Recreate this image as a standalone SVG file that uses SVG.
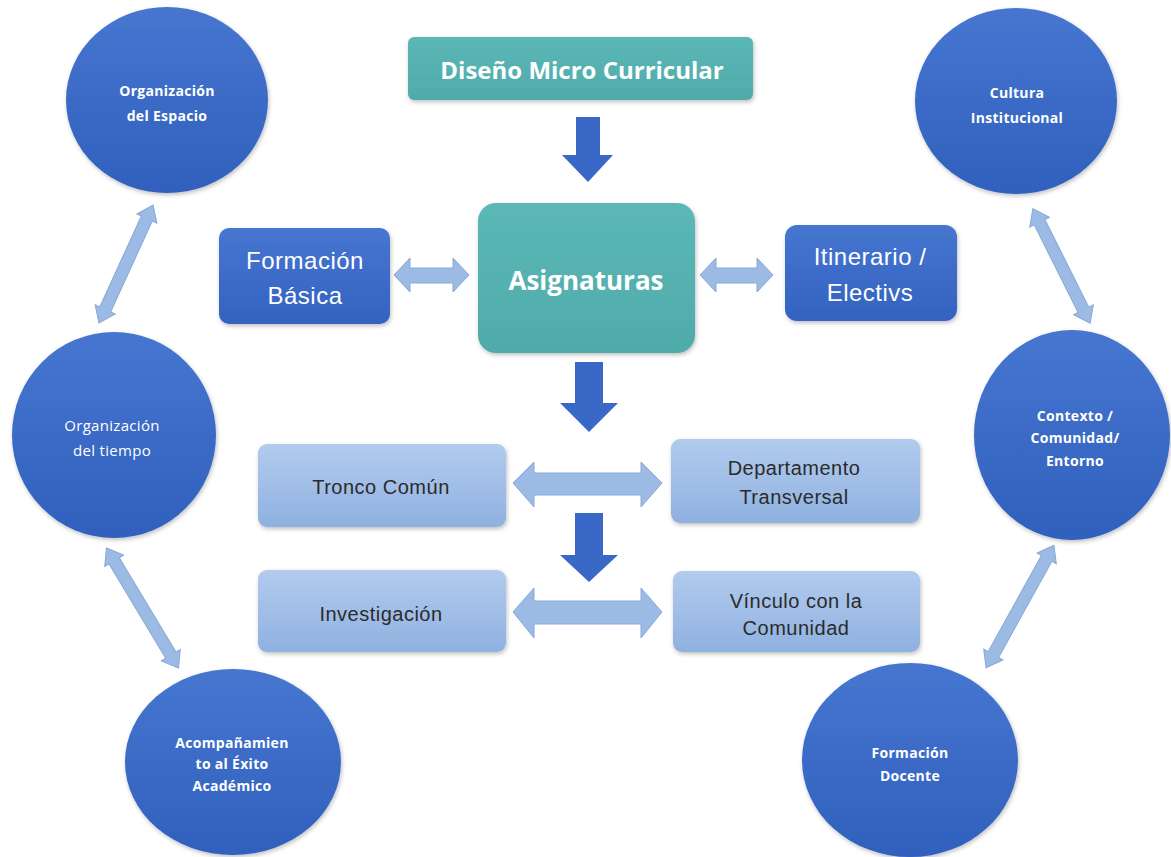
<svg xmlns="http://www.w3.org/2000/svg" width="1171" height="857" viewBox="0 0 1171 857">
<defs>
<linearGradient id="gCircle" x1="0" y1="0" x2="0" y2="1">
<stop offset="0" stop-color="#4676d0"/><stop offset="1" stop-color="#3060bd"/>
</linearGradient>
<linearGradient id="gDark" x1="0" y1="0" x2="0" y2="1">
<stop offset="0" stop-color="#4676d0"/><stop offset="1" stop-color="#3462c0"/>
</linearGradient>
<linearGradient id="gLight" x1="0" y1="0" x2="0" y2="1">
<stop offset="0" stop-color="#b2cbee"/><stop offset="1" stop-color="#8fb1e0"/>
</linearGradient>
<linearGradient id="gTeal" x1="0" y1="0" x2="0" y2="1">
<stop offset="0" stop-color="#5bb8b6"/><stop offset="1" stop-color="#4fabaa"/>
</linearGradient>
<filter id="sh" x="-10%" y="-10%" width="125%" height="130%">
<feDropShadow dx="1" dy="2" stdDeviation="2" flood-color="#000" flood-opacity="0.25"/>
</filter>
</defs>
<style>
.circle{fill:url(#gCircle);filter:url(#sh)}
.ctext{font-family:"Open Sans","Liberation Sans",sans-serif;font-weight:bold;font-size:14px;letter-spacing:0.3px;fill:#ffffff;text-anchor:middle;dominant-baseline:central}
.teal{fill:url(#gTeal);filter:url(#sh)}
.dark{fill:url(#gDark);filter:url(#sh)}
.light{fill:url(#gLight);filter:url(#sh)}
.ttext{font-family:"Open Sans","Liberation Sans",sans-serif;font-weight:bold;fill:#ffffff;text-anchor:middle;dominant-baseline:central}
.dtext{font-family:"Liberation Sans",sans-serif;font-size:24px;letter-spacing:0.5px;fill:#ffffff;text-anchor:middle;dominant-baseline:central}
.ltext{font-family:"Liberation Sans",sans-serif;font-size:20px;letter-spacing:0.5px;fill:#2b2b2b;text-anchor:middle;dominant-baseline:central}
.down{fill:#3a68c6}
.dbl{fill:#9cbbe4;stroke:#86a8d8;stroke-width:1}
</style>
<rect width="1171" height="857" fill="#ffffff"/>

<g id="connectors">
<polygon class="down" points="576,117 600,117 600,155 613,155 588,182 562,155 576,155"/>
<polygon class="down" points="575,362 603,362 603,403 618,403 589,432 560,403 575,403"/>
<polygon class="down" points="575,513 603,513 603,555 618,555 589,582 560,555 575,555"/>
<polygon class="dbl" points="394,275 410,258 410,268 453,268 453,258 469,275 453,292 453,283 410,283 410,292"/>
<polygon class="dbl" points="700,275 716,258 716,268 757,268 757,258 773,275 757,292 757,283 716,283 716,292"/>
<polygon class="dbl" points="513,483 534,462 534,473 641,473 641,462 662,483 641,507 641,495 534,495 534,507"/>
<polygon class="dbl" points="513,612 534,588 534,601 641,601 641,588 662,612 641,638 641,624 534,624 534,638"/>
<g transform="translate(126,264) rotate(-65.4)">
<polygon class="dbl" points="-65,0 -50,-11 -50,-6 50,-6 50,-11 65,0 50,11 50,6 -50,6 -50,11"/>
</g>
<g transform="translate(142.5,608) rotate(59)">
<polygon class="dbl" points="-70,0 -55,-11 -55,-6 55,-6 55,-11 70,0 55,11 55,6 -55,6 -55,11"/>
</g>
<g transform="translate(1061.5,266) rotate(63.4)">
<polygon class="dbl" points="-64,0 -49,-11 -49,-6 49,-6 49,-11 64,0 49,11 49,6 -49,6 -49,11"/>
</g>
<g transform="translate(1020,606.5) rotate(-61)">
<polygon class="dbl" points="-70,0 -55,-11 -55,-6 55,-6 55,-11 70,0 55,11 55,6 -55,6 -55,11"/>
</g>
</g>

<g id="org-espacio">
<ellipse class="circle" cx="167" cy="100" rx="101" ry="93"/>
<text class="ctext" x="167" y="90">Organización</text>
<text class="ctext" x="167" y="115">del Espacio</text>
</g>
<g id="cultura">
<ellipse class="circle" cx="1016" cy="101" rx="101" ry="93"/>
<text class="ctext" x="1017" y="92">Cultura</text>
<text class="ctext" x="1017" y="117">Institucional</text>
</g>
<g id="org-tiempo">
<ellipse class="circle" cx="114" cy="435" rx="102" ry="103"/>
<text class="ctext" x="112" y="425" style="font-weight:normal;font-size:15px">Organización</text>
<text class="ctext" x="112" y="450" style="font-weight:normal;font-size:15px">del tiempo</text>
</g>
<g id="contexto">
<ellipse class="circle" cx="1072" cy="435" rx="98" ry="105"/>
<text class="ctext" x="1075" y="415">Contexto /</text>
<text class="ctext" x="1075" y="437">Comunidad/</text>
<text class="ctext" x="1075" y="460">Entorno</text>
</g>
<g id="acompanamiento">
<ellipse class="circle" cx="233" cy="762" rx="108" ry="93"/>
<text class="ctext" x="232" y="742">Acompañamien</text>
<text class="ctext" x="232" y="763">to al Éxito</text>
<text class="ctext" x="232" y="785">Académico</text>
</g>
<g id="formacion-docente">
<ellipse class="circle" cx="910" cy="760" rx="108" ry="97"/>
<text class="ctext" x="910" y="752">Formación</text>
<text class="ctext" x="910" y="775">Docente</text>
</g>

<g id="diseno">
<rect class="teal" x="408" y="37" width="345" height="63" rx="6"/>
<text class="ttext" x="582" y="69" font-size="24">Diseño Micro Curricular</text>
</g>
<g id="asignaturas">
<rect class="teal" x="478" y="203" width="217" height="150" rx="18"/>
<text class="ttext" x="586" y="280" font-size="26">Asignaturas</text>
</g>
<g id="formacion-basica">
<rect class="dark" x="219" y="228" width="171" height="96" rx="10"/>
<text class="dtext" x="305" y="260">Formación</text>
<text class="dtext" x="305" y="295">Básica</text>
</g>
<g id="itinerario">
<rect class="dark" x="785" y="225" width="172" height="96" rx="12"/>
<text class="dtext" x="870" y="256">Itinerario /</text>
<text class="dtext" x="870" y="292">Electivs</text>
</g>
<g id="tronco">
<rect class="light" x="258" y="444" width="248" height="83" rx="9"/>
<text class="ltext" x="381" y="487">Tronco Común</text>
</g>
<g id="departamento">
<rect class="light" x="671" y="439" width="249" height="84" rx="9"/>
<text class="ltext" x="794" y="468">Departamento</text>
<text class="ltext" x="794" y="497">Transversal</text>
</g>
<g id="investigacion">
<rect class="light" x="258" y="570" width="248" height="82" rx="9"/>
<text class="ltext" x="381" y="614">Investigación</text>
</g>
<g id="vinculo">
<rect class="light" x="673" y="571" width="247" height="81" rx="9"/>
<text class="ltext" x="796" y="601">Vínculo con la</text>
<text class="ltext" x="796" y="628">Comunidad</text>
</g>
</svg>
